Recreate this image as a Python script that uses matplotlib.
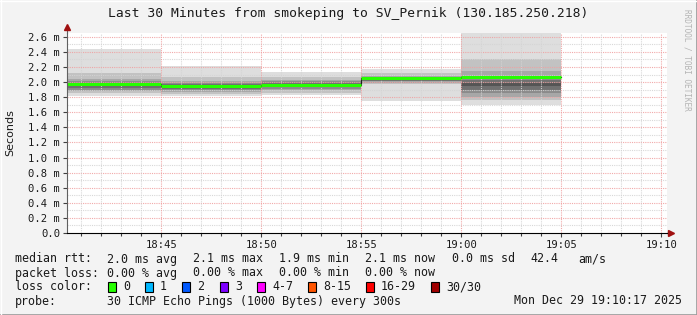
import matplotlib
matplotlib.use("Agg")
from matplotlib import pyplot as plt
from matplotlib.ticker import MultipleLocator, FuncFormatter
from matplotlib.patches import Rectangle

W, H = 697, 315

title = "Last 30 Minutes from smokeping to SV_Pernik (130.185.250.218)"
start_time = "18:40:17"
end_time = "19:10:17"
slot_starts = ["18:40", "18:45", "18:50", "18:55", "19:00"]
slot_len = 5  # minutes per step
medians = [1.97, 1.945, 1.96, 2.05, 2.07]
# sorted ping times (ms) per step
pings = [
	[1.82, 1.85, 1.88, 1.90, 1.92, 1.95, 1.97, 1.99, 2.01, 2.04, 2.12, 2.44],
	[1.81, 1.84, 1.87, 1.89, 1.91, 1.93, 1.95, 1.97, 1.99, 2.02, 2.07, 2.21],
	[1.83, 1.86, 1.89, 1.91, 1.93, 1.95, 1.97, 1.99, 2.01, 2.03, 2.07, 2.13],
	[1.75, 1.97, 1.99, 2.01, 2.02, 2.03, 2.04, 2.05, 2.06, 2.08, 2.12, 2.17],
	[1.70, 1.76, 1.80, 1.85, 1.90, 1.95, 1.99, 2.03, 2.08, 2.15, 2.30, 2.70],
]
y_max = 2.65

loss_labels = ["0", "1", "2", "3", "4-7", "8-15", "16-29", "30/30"]
loss_colors = ["#26ff00", "#00b8ff", "#0059ff", "#7e00ff", "#ff00ff", "#ff5500", "#ff0000", "#a00000"]
loss_x = [108, 145, 182, 220, 257, 308, 366, 431]

stats_rtt = ["2.0 ms avg", "2.1 ms max", "1.9 ms min", "2.1 ms now", "0.0 ms sd", "42.4", "am/s"]
stats_rtt_x = [107, 193, 279, 365, 452, 530, 578]
stats_loss = ["0.00 % avg", "0.00 % max", "0.00 % min", "0.00 % now"]
probe_text = "30 ICMP Echo Pings (1000 Bytes) every 300s"
date_text = "Mon Dec 29 19:10:17 2025"

MONO = "DejaVu Sans Mono"


def tmin(s):
	parts = [int(p) for p in s.split(":")]
	while len(parts) < 3:
		parts.append(0)
	return parts[0] * 60 + parts[1] + parts[2] / 60.0


def fx(px):
	return px / W


def fy(py):
	return 1 - py / H


fig = plt.figure(figsize=(W / 100, H / 100), dpi=100, facecolor="#f3f3f3")
ax = fig.add_axes([fx(67), fy(233), 600 / W, 200 / H])
ax.set_facecolor("white")

# smoke
for s, row in zip(slot_starts, pings):
	x0 = tmin(s)
	x1 = x0 + slot_len
	n = len(row)
	half = n // 2
	for i in range(half):
		shade = int(0xde - (0xde - 0x55) * i / (half - 1))
		c = "#%02x%02x%02x" % (shade, shade, shade)
		ax.fill_between([x0, x1], row[i], row[n - 1 - i], color=c, lw=0, zorder=1)

# median line: dark step then coloured line
xs = [tmin(s) for s in slot_starts] + [tmin(slot_starts[-1]) + slot_len]
ax.step(xs, medians + [medians[-1]], where="post", color="#202020", lw=0.8, zorder=3)
for s, med in zip(slot_starts, medians):
	x0 = tmin(s)
	ax.plot([x0, x0 + slot_len], [med, med], color=loss_colors[0], lw=2.2,
		solid_capstyle="butt", zorder=4)

ax.set_xlim(tmin(start_time), tmin(end_time))
ax.set_ylim(0, y_max)

# grid
dot = (0, (1, 1))
for v in range(1, 27):
	y = v / 10
	major = v % 2 == 0
	ax.axhline(y, color="#f0a0a0" if major else "#d4d4d4", lw=0.8, ls=dot, zorder=2, alpha=0.9)
m = int(tmin(start_time)) + 1
while m < tmin(end_time):
	major = m % 5 == 0
	ax.axvline(m, color="#f0a0a0" if major else "#d4d4d4", lw=0.8, ls=dot, zorder=2, alpha=0.9)
	m += 1

ax.yaxis.set_major_locator(MultipleLocator(0.2))
ax.yaxis.set_major_formatter(FuncFormatter(lambda v, p: "0.0" if abs(v) < 1e-9 else "%.1f m" % v))
ax.xaxis.set_major_locator(MultipleLocator(5))
ax.xaxis.set_minor_locator(MultipleLocator(1))
ax.xaxis.set_major_formatter(FuncFormatter(lambda v, p: "%02d:%02d" % (int(round(v)) // 60, int(round(v)) % 60)))
ax.tick_params(axis="both", which="major", labelsize=7.6, length=3, width=0.8,
	color="#404040", labelcolor="#1a1a1a", pad=2)
ax.tick_params(axis="x", which="minor", length=2, width=0.8, color="#404040")
for lab in ax.get_xticklabels() + ax.get_yticklabels():
	lab.set_family(MONO)

for sp in ["top", "right"]:
	ax.spines[sp].set_visible(False)
ax.spines["left"].set_color("#606060")
ax.spines["bottom"].set_color("black")
ax.spines["left"].set_zorder(5)
ax.spines["bottom"].set_zorder(5)

# axis arrows
ax.plot([0, 0], [1, 1.03], transform=ax.transAxes, color="#606060", lw=0.8, clip_on=False)
ax.plot([1, 1.006], [0, 0], transform=ax.transAxes, color="black", lw=0.8, clip_on=False)
ax.plot([0], [1.03], transform=ax.transAxes, marker="^", ms=4, color="#a01010", clip_on=False)
ax.plot([1.006], [0], transform=ax.transAxes, marker=">", ms=4, color="#a01010", clip_on=False)

ax.set_ylabel("Seconds", fontsize=8, family="DejaVu Sans", color="#1a1a1a", labelpad=9)

fig.text(0.5, fy(13), title, ha="center", va="center", fontsize=9.4, family=MONO, color="#1a1a1a")
fig.text(fx(687), fy(60), "RRDTOOL / TOBI OETIKER", rotation=270, ha="center", va="center",
	fontsize=5.6, family=MONO, color="#b4b4b4")

# legend block
LFS = 8.4
def ltext(x, y, s, **kw):
	fig.text(fx(x), fy(y), s, va="center", fontsize=LFS, family=MONO, color="#1a1a1a", **kw)

ltext(15, 259, "median rtt:")
for s, x in zip(stats_rtt, stats_rtt_x):
	ltext(x, 259, s)
ltext(15, 273, "packet loss:")
for s, x in zip(stats_loss, stats_rtt_x):
	ltext(x, 273, s)
ltext(15, 287, "loss color:")
for lab, col, x in zip(loss_labels, loss_colors, loss_x):
	fig.patches.append(Rectangle((fx(x), fy(292)), 8 / W, 10 / H, transform=fig.transFigure,
		facecolor=col, edgecolor="black", lw=0.8))
	ltext(x + 15, 287, lab)
ltext(15, 301, "probe:")
ltext(107, 301, probe_text)
ltext(682, 301, date_text, ha="right")

# frame shading
fig.add_artist(plt.Line2D([0, 1], [fy(314.5), fy(314.5)], transform=fig.transFigure, color="#9a9a9a", lw=1.2))
fig.add_artist(plt.Line2D([fx(696.5), fx(696.5)], [0, 1], transform=fig.transFigure, color="#9a9a9a", lw=1.2))
fig.add_artist(plt.Line2D([0, 1], [fy(0.5), fy(0.5)], transform=fig.transFigure, color="white", lw=1))
fig.add_artist(plt.Line2D([fx(0.5), fx(0.5)], [0, 1], transform=fig.transFigure, color="white", lw=1))

fig.savefig("out.png", dpi=100, facecolor=fig.get_facecolor())
